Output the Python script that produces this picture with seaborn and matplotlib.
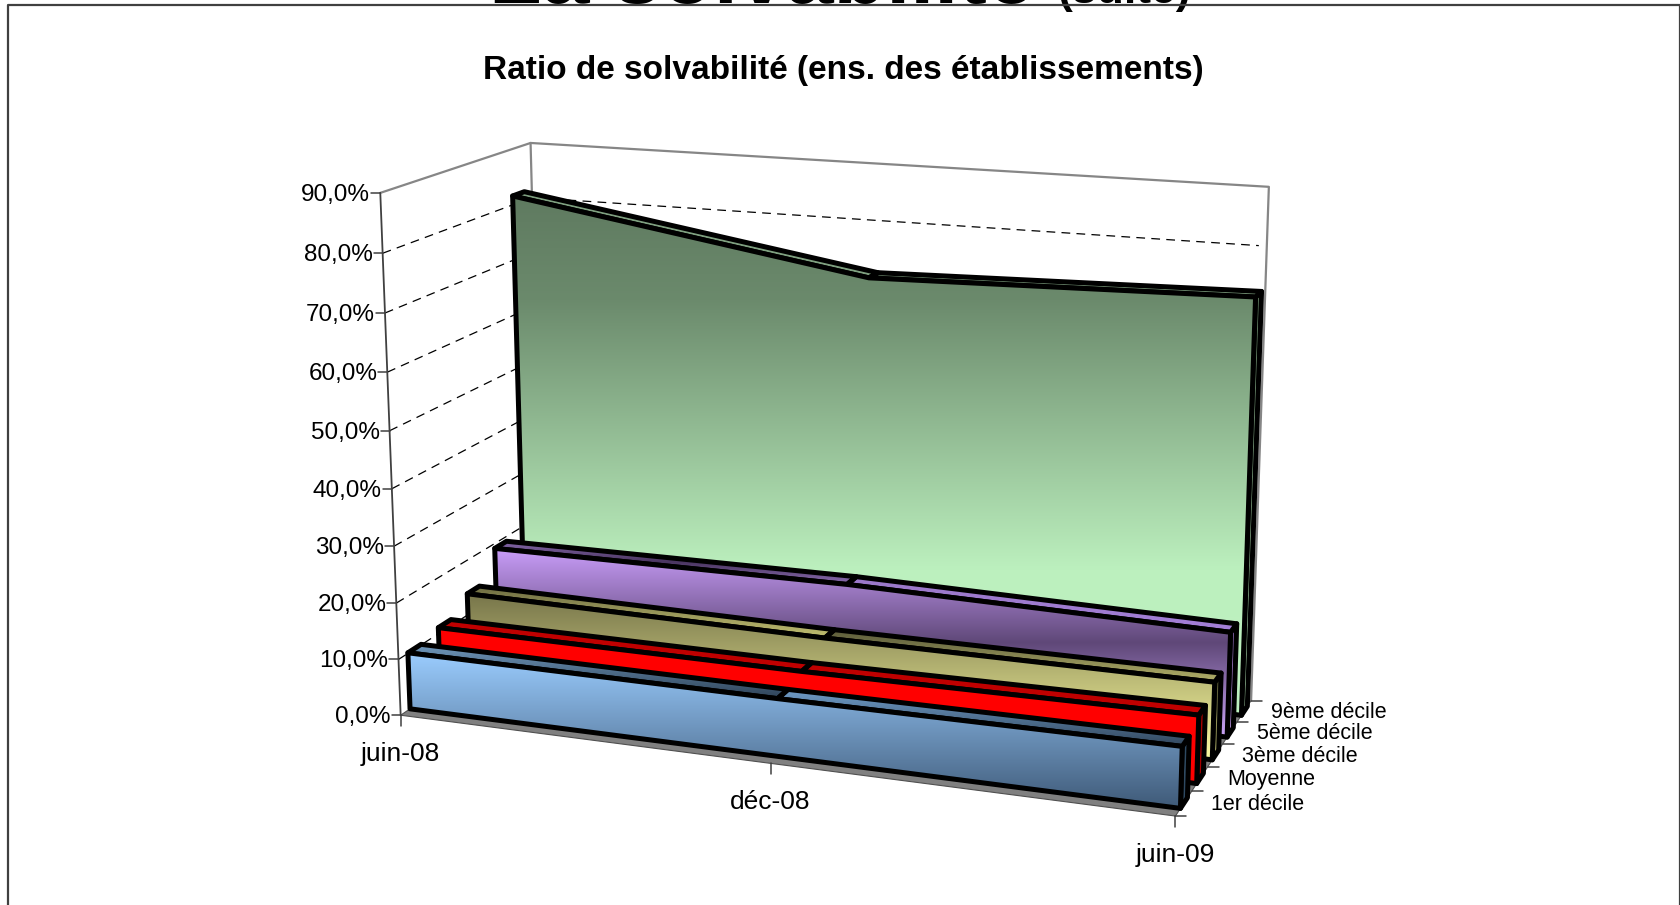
import numpy as np
import pandas as pd
import seaborn as sns
import matplotlib
matplotlib.use("Agg")
import matplotlib.pyplot as plt
from matplotlib.colors import LinearSegmentedColormap
from matplotlib.patches import Polygon

sns.set_theme(style="white")
plt.rcParams["font.family"] = ["Liberation Sans", "DejaVu Sans"]

# values, in percent
months = ["juin-08", "déc-08", "juin-09"]
series = ["1er décile", "Moyenne", "3ème décile", "5ème décile", "9ème décile"]
d1_vals = [10.1, 10.0, 10.3]
moy_vals = [11.1, 11.0, 11.6]
d3_vals = [13.9, 13.3, 13.4]
d5_vals = [19.1, 19.5, 18.4]
d9_vals = [81.6, 71.4, 72.9]
all_vals = [d1_vals, moy_vals, d3_vals, d5_vals, d9_vals]
yticks = [0, 10, 20, 30, 40, 50, 60, 70, 80, 90]
ylabels = ["0,0%", "10,0%", "20,0%", "30,0%", "40,0%", "50,0%", "60,0%", "70,0%", "80,0%", "90,0%"]

# front gradient, top face colours (one per segment), side colours
front_cols = [
    ["#9bcdff", "#3f5a78"],
    ["#ff0000", "#ff0000"],
    ["#77754a", "#fdfda2"],
    ["#c99df9", "#5f4878", "#c9a3f5"],
    [(0, "#5f7a60"), (0.2, "#6b8a6c"), (0.72, "#bcf0be"), (1, "#bff2c1")],
]
top_cols = [
    [["#6f97bb", "#2f4358"], ["#6f9cc8", "#33485e"]],
    [["#c00000", "#c00000"], ["#c00000", "#c00000"]],
    [["#6d6c42", "#c0be70"], ["#5a5a3a", "#b0ae68"]],
    [["#8a6cb0", "#4a3560", "#8a6cb0"], ["#9a78c8", "#a47fd8"]],
    [["#7fa080", "#7fa080"], ["#7fa080", "#7fa080"]],
]
side_cols = [
    ["#2f4a62", "#2f4a62"],
    ["#a80000", "#a80000"],
    ["#45452a", "#c8c878"],
    ["#7a5aa0", "#c8a0f0"],
    ["#6f8f70", "#bff2c1"],
]

# camera fit: (x, depth, value/90) -> pixel
cal_3d = np.array([
    [0, 0, 0], [0, 0, 1], [0, 1, 1], [1, 1, 1], [1, 1, 0], [1, 0, 0],
    [0.5, 0, 0], [0, 1, 8 / 9], [1, 1, 8 / 9], [0, 0, 8 / 9], [0, 0, 5 / 9],
    [1, 0.2, 0], [1, 0.4, 0], [1, 0.6, 0], [1, 0.8, 0],
])
cal_px = np.array([
    [401, 715], [381, 193], [531, 143], [1272, 187], [1251, 701], [1175, 816],
    [770, 763], [532, 197], [1263, 246], [382, 253], [389, 432],
    [1193, 790], [1208, 767], [1223, 744], [1237, 722],
], dtype=float)

rows = []
for (a, b, c), (u, v) in zip(cal_3d, cal_px):
    u2, v2 = u / 1000, v / 1000
    rows.append([a, b, c, 1, 0, 0, 0, 0, -u2 * a, -u2 * b, -u2 * c, -u2])
    rows.append([0, 0, 0, 0, a, b, c, 1, -v2 * a, -v2 * b, -v2 * c, -v2])
P = np.linalg.svd(np.array(rows))[2][-1].reshape(3, 4)


def proj(x, d, val):
    h = P @ np.array([x, d, val / 90, 1.0])
    return h[0] / h[2] * 1000, h[1] / h[2] * 1000


fig = plt.figure(figsize=(16.81, 9.05), dpi=100)
ax = fig.add_axes([0, 0, 1, 1])


def grad_poly(pts, stops, z):
    pts = np.array(pts)
    y0, y1 = pts[:, 1].min(), pts[:, 1].max()
    cmap = LinearSegmentedColormap.from_list("g", stops)
    img = ax.imshow(np.linspace(0, 1, 256)[:, None], cmap=cmap, aspect="auto", zorder=z,
                    extent=(pts[:, 0].min(), pts[:, 0].max(), y1, y0), interpolation="bilinear")
    patch = Polygon(pts, closed=True, transform=ax.transData)
    img.set_clip_path(patch)
    ax.add_patch(Polygon(pts, closed=True, fill=False, ec="black", lw=3.6, joinstyle="round", zorder=z + 0.1))


# box walls and floor
floor = [proj(0, 0, 0), proj(1, 0, 0), proj(1, 1, 0), proj(0, 1, 0)]
ax.add_patch(Polygon(floor, closed=True, fc="#808080", ec="#505050", lw=0.8, zorder=1))
wall = [proj(0, 0, 90), proj(0, 1, 90), proj(1, 1, 90), proj(1, 1, 0)]
ax.plot(*zip(*wall), color="#868686", lw=1.6, zorder=1)
ax.plot(*zip(proj(0, 1, 90), proj(0, 1, 0)), color="#868686", lw=1.6, zorder=1)
ax.plot(*zip(proj(0, 0, 90), proj(0, 0, 0)), color="#404040", lw=1.3, zorder=1.2)

for val in yticks[1:-1]:
    ax.plot(*zip(proj(0, 0, val), proj(0, 1, val), proj(0.99, 1, val)), color="black", lw=0.9,
            dashes=(7, 5), zorder=1.1)
for val, lab in zip(yticks, ylabels):
    px, py = proj(0, 0, val)
    ax.plot([px - 9, px], [py, py], color="#404040", lw=1.1, zorder=1.2)
    ax.text(px - 10, py + 2, lab, ha="right", va="center", fontsize=17.5, color="black")

# series slabs, back to front
xs = [0, 0.5, 1]
for k in range(4, -1, -1):
    vals = all_vals[k]
    d0, d1 = 0.06 + 0.2 * k, 0.145 + 0.2 * k
    z = 2 + (4 - k) * 2
    side = [proj(1, d0, 0), proj(1, d1, 0), proj(1, d1, vals[2]), proj(1, d0, vals[2])]
    grad_poly(side, side_cols[k], z)
    for s in range(2):
        top = [proj(xs[s], d0, vals[s]), proj(xs[s + 1], d0, vals[s + 1]),
               proj(xs[s + 1], d1, vals[s + 1]), proj(xs[s], d1, vals[s])]
        grad_poly(top, top_cols[k][s], z + 0.2)
    front = [proj(0, d0, 0)] + [proj(x, d0, v) for x, v in zip(xs, vals)] + [proj(1, d0, 0)]
    grad_poly(front, front_cols[k], z + 0.4)

# axis ticks and labels
for x, lab in zip(xs, months):
    px, py = proj(x, 0, 0)
    ax.plot([px, px], [py, py + 11], color="#404040", lw=1.1, zorder=20)
    ax.text(px, py + 39, lab, ha="center", va="center", fontsize=19, color="black")
for k in range(6):
    px, py = proj(1, 0.2 * k, 0)
    ax.plot([px, px + 11], [py, py], color="#404040", lw=1.1, zorder=1.2)
for k, lab in enumerate(series):
    px, py = proj(1, 0.1 + 0.2 * k, 0)
    ax.text(px + 27, py + 1, lab, ha="left", va="center", fontsize=15.5, color="black")

ax.text(843, 70, "Ratio de solvabilité (ens. des établissements)", ha="center", va="center",
        fontsize=24, fontweight="bold", color="black")

# frame of the slide and the clipped heading above it
ax.plot([1680, 1680, 8.5, 8.5], [905, 5, 5, 905], color="#404040", lw=1.6, zorder=30)
ax.text(762, 3, "La solvabilité", ha="center", va="baseline", fontsize=62, fontweight="bold", color="black")
ax.text(1125, 3, "(suite)", ha="center", va="baseline", fontsize=32, fontweight="bold", color="black")

ax.set_xlim(0, 1681)
ax.set_ylim(905, 0)
ax.axis("off")
sns.despine(ax=ax, left=True, bottom=True)
fig.savefig("out.png", dpi=100)
